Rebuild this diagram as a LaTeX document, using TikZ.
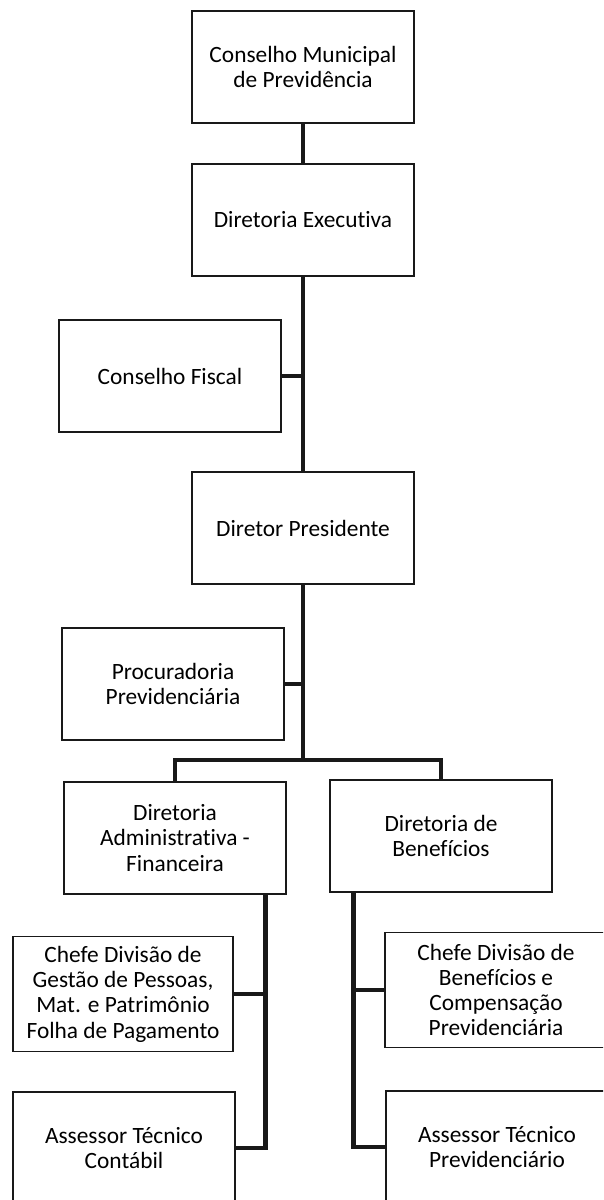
\documentclass[tikz,border=0pt]{standalone}
\usepackage{fontspec}
\setmainfont{Carlito}[Ligatures=NoCommon]
\usetikzlibrary{calc}

\tikzset{
  caixa/.style={draw=black!90, line width=1.1pt, fill=white,
    minimum width=4.44cm, minimum height=2.24cm, inner sep=2pt,
    align=center, font=\fontsize{13.3}{14.4}\selectfont},
  ligacao/.style={draw=black!90, line width=2.8pt}
}

\begin{document}
\begin{tikzpicture}[x=0.02cm, y=-0.02cm]

        \useasboundingbox (0,0) rectangle (603,1200);
        \clip (0,0) rectangle (603,1200);

        % Conselho e diretoria
        \node[caixa] (conselho) at (303,67) {Conselho Municipal\\de Previdência};
        \node[caixa] (executiva) at (303,220) {Diretoria Executiva};
        \node[caixa] (fiscal) at (170,376) {Conselho Fiscal};
        \node[caixa] (presidente) at (303,528) {Diretor Presidente};
        \node[caixa] (procuradoria) at (173,684) {Procuradoria\\Previdenciária};

        % Diretorias
        \node[caixa] (dirAdm) at (175,838) {Diretoria\\Administrativa -\\Financeira};
        \node[caixa] (dirBen) at (441,836) {Diretoria de\\Benefícios};

        % Divisões e assessores
        \node[caixa, minimum width=4.4cm, minimum height=2.3cm] (chefeGestao) at (123,994) {Chefe Divisão de\\Gestão de Pessoas,\\Mat. e Patrimônio\\Folha de Pagamento};
        \node[caixa] (contabil) at (124,1148) {Assessor Técnico\\Contábil};
        \node[caixa, minimum height=2.3cm] (chefeBen) at (496,990) {Chefe Divisão de\\Benefícios e\\Compensação\\Previdenciária};
        \node[caixa] (previdenciario) at (497,1147) {Assessor Técnico\\Previdenciário};

        % Linhas
        \draw[ligacao] (conselho.south) -- (executiva.north);
        \draw[ligacao] (executiva.south) -- (presidente.north);
        \draw[ligacao] (fiscal.east) -- (fiscal.east -| executiva.south);
        \draw[ligacao] (procuradoria.east) -- (procuradoria.east -| presidente.south);

        \coordinate (barra) at (303,760);
        \draw[ligacao] (presidente.south) -- (barra);
        \draw[ligacao] (dirAdm.north) |- (barra) -| (dirBen.north);

        \coordinate (admDesce) at ($(dirAdm.south east)+(-21,0)$);
        \draw[ligacao] (admDesce) |- (contabil.east);
        \draw[ligacao] (chefeGestao.east) -- (chefeGestao.east -| admDesce);

        \coordinate (benDesce) at ($(dirBen.south west)+(24,0)$);
        \draw[ligacao] (benDesce) |- (previdenciario.west);
        \draw[ligacao] (chefeBen.west) -- (chefeBen.west -| benDesce);

\end{tikzpicture}
\end{document}
